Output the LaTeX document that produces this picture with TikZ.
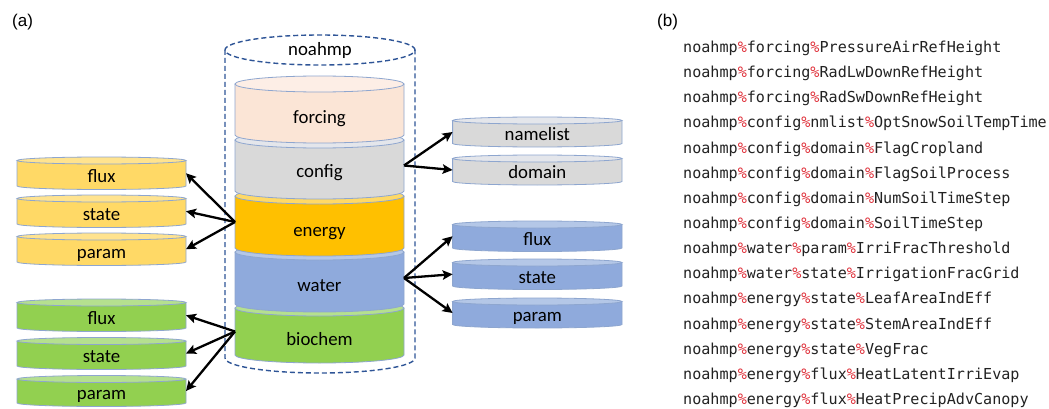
\documentclass[tikz,border=0pt]{standalone}
\usepackage{fontspec}
\setmainfont{Carlito}
\newfontfamily\monof{DejaVu Sans Mono}
\newfontfamily\arialf{Liberation Sans}
\usetikzlibrary{arrows.meta}
\definecolor{forcingC}{HTML}{FBE5D6}
\definecolor{forcingT}{HTML}{FDEEE6}
\definecolor{greyC}{HTML}{D9D9D9}
\definecolor{greyT}{HTML}{E4E6EB}
\definecolor{energyC}{HTML}{FFC000}
\definecolor{energyT}{HTML}{FFD966}
\definecolor{waterC}{HTML}{8FAADC}
\definecolor{waterT}{HTML}{B4C7E7}
\definecolor{bioC}{HTML}{92D050}
\definecolor{bioT}{HTML}{B5E08F}
\definecolor{yelC}{HTML}{FFD966}
\definecolor{yelT}{HTML}{FFE38F}
\definecolor{lineC}{HTML}{8EA6CF}
\definecolor{dashC}{HTML}{2F5597}
\definecolor{pctred}{HTML}{E0303A}
\definecolor{codeC}{HTML}{222222}
\newcommand\pp{{\color{pctred}\%}}
\tikzset{
  cylline/.style={draw=lineC,line width=0.8pt},
  dashline/.style={draw=dashC,line width=1.4pt,dash pattern=on 5pt off 3pt},
  lbl/.style={font=\fontsize{18.8}{20}\selectfont,text=black,inner sep=0pt,anchor=base},
  code/.style={font=\monof\fontsize{15.1}{17}\selectfont,text=codeC,inner sep=0pt,anchor=base west},
  arr/.style={line width=2.3pt,-{Stealth[length=10pt,width=9.5pt,inset=2pt]}},
  panel/.style={font=\arialf\fontsize{17}{19}\selectfont,inner sep=0pt,anchor=west}
}
% #1 name, #2 cx, #3 rx, #4 yt, #5 yb, #6 ry, #7 body colour, #8 top colour
\newcommand\cyl[8]{%
  \fill[#7] ({#2-#3},#4) -- ({#2-#3},#5) arc[start angle=180,end angle=360,x radius=#3pt,y radius=#6pt] -- ({#2+#3},#4) -- cycle;
  \draw[cylline] ({#2-#3},#4) -- ({#2-#3},#5) arc[start angle=180,end angle=360,x radius=#3pt,y radius=#6pt] -- ({#2+#3},#4);
  \filldraw[cylline,fill=#8] (#2,#4) ellipse[x radius=#3pt,y radius=#6pt];
  \node[inner sep=0pt,outer sep=0pt,minimum width={2*#3pt},minimum height={(#5-#4)*1pt}] (#1) at (#2,{(#4+#5)/2}) {};
}
\begin{document}
\begin{tikzpicture}[x=1pt,y=-1pt]
\useasboundingbox[fill=white] (0,0) rectangle (1049,409);
% panel labels
\node[panel] (pa) at (12,22) {(a)};
\node[panel] (pb) at (657,22) {(b)};
% noahmp container
\draw[dashline] (225,50) -- (225,358) arc[start angle=180,end angle=360,x radius=95pt,y radius=15pt] -- (415,50);
\draw[dashline] (320,50) ellipse[x radius=95pt,y radius=15pt];
\node[lbl] (noahmp) at (320,56) {noahmp};
% main stack (bottom to top)
\cyl{biochem}{319.5}{84.5}{308}{355}{8}{bioC}{bioT}
\cyl{water}{319.5}{84.5}{252}{304}{8}{waterC}{waterT}
\cyl{energy}{319.5}{84.5}{196}{248}{8}{energyC}{energyT}
\cyl{config}{319.5}{84.5}{140}{191}{8}{greyC}{greyT}
\cyl{forcing}{319.5}{84.5}{84}{135}{8}{forcingC}{forcingT}
\node[lbl] (forcingt) at (319.5,124) {forcing};
\node[lbl] (configt) at (319.5,177) {config};
\node[lbl] (energyt) at (319.5,236) {energy};
\node[lbl] (watert) at (319.5,291) {water};
\node[lbl] (biochemt) at (319.5,345) {biochem};
% left energy group
\cyl{eflux}{101.5}{84.5}{160.5}{186}{3.5}{yelC}{yelT}
\cyl{estate}{101.5}{84.5}{198.5}{224}{3.5}{yelC}{yelT}
\cyl{eparam}{101.5}{84.5}{236.5}{262}{3.5}{yelC}{yelT}
\node[lbl] (efluxt) at (101.5,182) {flux};
\node[lbl] (estatet) at (101.5,220) {state};
\node[lbl] (eparamt) at (101.5,258) {param};
% left biochem group
\cyl{bflux}{101.5}{84.5}{302.5}{328}{3.5}{bioC}{bioT}
\cyl{bstate}{101.5}{84.5}{341}{366}{3.5}{bioC}{bioT}
\cyl{bparam}{101.5}{84.5}{379}{403}{3.5}{bioC}{bioT}
\node[lbl] (bfluxt) at (101.5,324) {flux};
\node[lbl] (bstatet) at (101.5,362) {state};
\node[lbl] (bparamt) at (101.5,399) {param};
% right config group
\cyl{namelist}{537.3}{84.7}{120.5}{143.5}{3.5}{greyC}{greyT}
\cyl{domain}{537.3}{84.7}{158.5}{181.5}{3.5}{greyC}{greyT}
\node[lbl] (namelistt) at (537.3,141) {namelist};
\node[lbl] (domaint) at (537.3,178) {domain};
% right water group
\cyl{wflux}{537.3}{84.7}{224.5}{248}{3.5}{waterC}{waterT}
\cyl{wstate}{537.3}{84.7}{262.5}{286}{3.5}{waterC}{waterT}
\cyl{wparam}{537.3}{84.7}{301.5}{324.5}{3.5}{waterC}{waterT}
\node[lbl] (wfluxt) at (537.3,245) {flux};
\node[lbl] (wstatet) at (537.3,283) {state};
\node[lbl] (wparamt) at (537.3,321) {param};
% arrows
\draw[arr] (energy.west) -- (eflux.east);
\draw[arr] (energy.west) -- (estate.east);
\draw[arr] (energy.west) -- (eparam.east);
\draw[arr] (biochem.west) -- (bflux.east);
\draw[arr] (biochem.west) -- (bstate.east);
\draw[arr] (biochem.west) -- (bparam.east);
\draw[arr] (config.east) -- (namelist.west);
\draw[arr] (config.east) -- (domain.west);
\draw[arr] (water.east) -- (wflux.west);
\draw[arr] (water.east) -- (wstate.west);
\draw[arr] (water.east) -- (wparam.west);
% code list
\node[code] (c1) at (683,52.5) {noahmp\pp forcing\pp PressureAirRefHeight};
\node[code] (c2) at (683,77.6) {noahmp\pp forcing\pp RadLwDownRefHeight};
\node[code] (c3) at (683,102.8) {noahmp\pp forcing\pp RadSwDownRefHeight};
\node[code] (c4) at (683,127.9) {noahmp\pp config\pp nmlist\pp OptSnowSoilTempTime};
\node[code] (c5) at (683,153.1) {noahmp\pp config\pp domain\pp FlagCropland};
\node[code] (c6) at (683,178.2) {noahmp\pp config\pp domain\pp FlagSoilProcess};
\node[code] (c7) at (683,203.3) {noahmp\pp config\pp domain\pp NumSoilTimeStep};
\node[code] (c8) at (683,228.5) {noahmp\pp config\pp domain\pp SoilTimeStep};
\node[code] (c9) at (683,253.6) {noahmp\pp water\pp param\pp IrriFracThreshold};
\node[code] (c10) at (683,278.8) {noahmp\pp water\pp state\pp IrrigationFracGrid};
\node[code] (c11) at (683,303.9) {noahmp\pp energy\pp state\pp LeafAreaIndEff};
\node[code] (c12) at (683,329.0) {noahmp\pp energy\pp state\pp StemAreaIndEff};
\node[code] (c13) at (683,354.2) {noahmp\pp energy\pp state\pp VegFrac};
\node[code] (c14) at (683,379.3) {noahmp\pp energy\pp flux\pp HeatLatentIrriEvap};
\node[code] (c15) at (683,404.5) {noahmp\pp energy\pp flux\pp HeatPrecipAdvCanopy};
\end{tikzpicture}
\end{document}
